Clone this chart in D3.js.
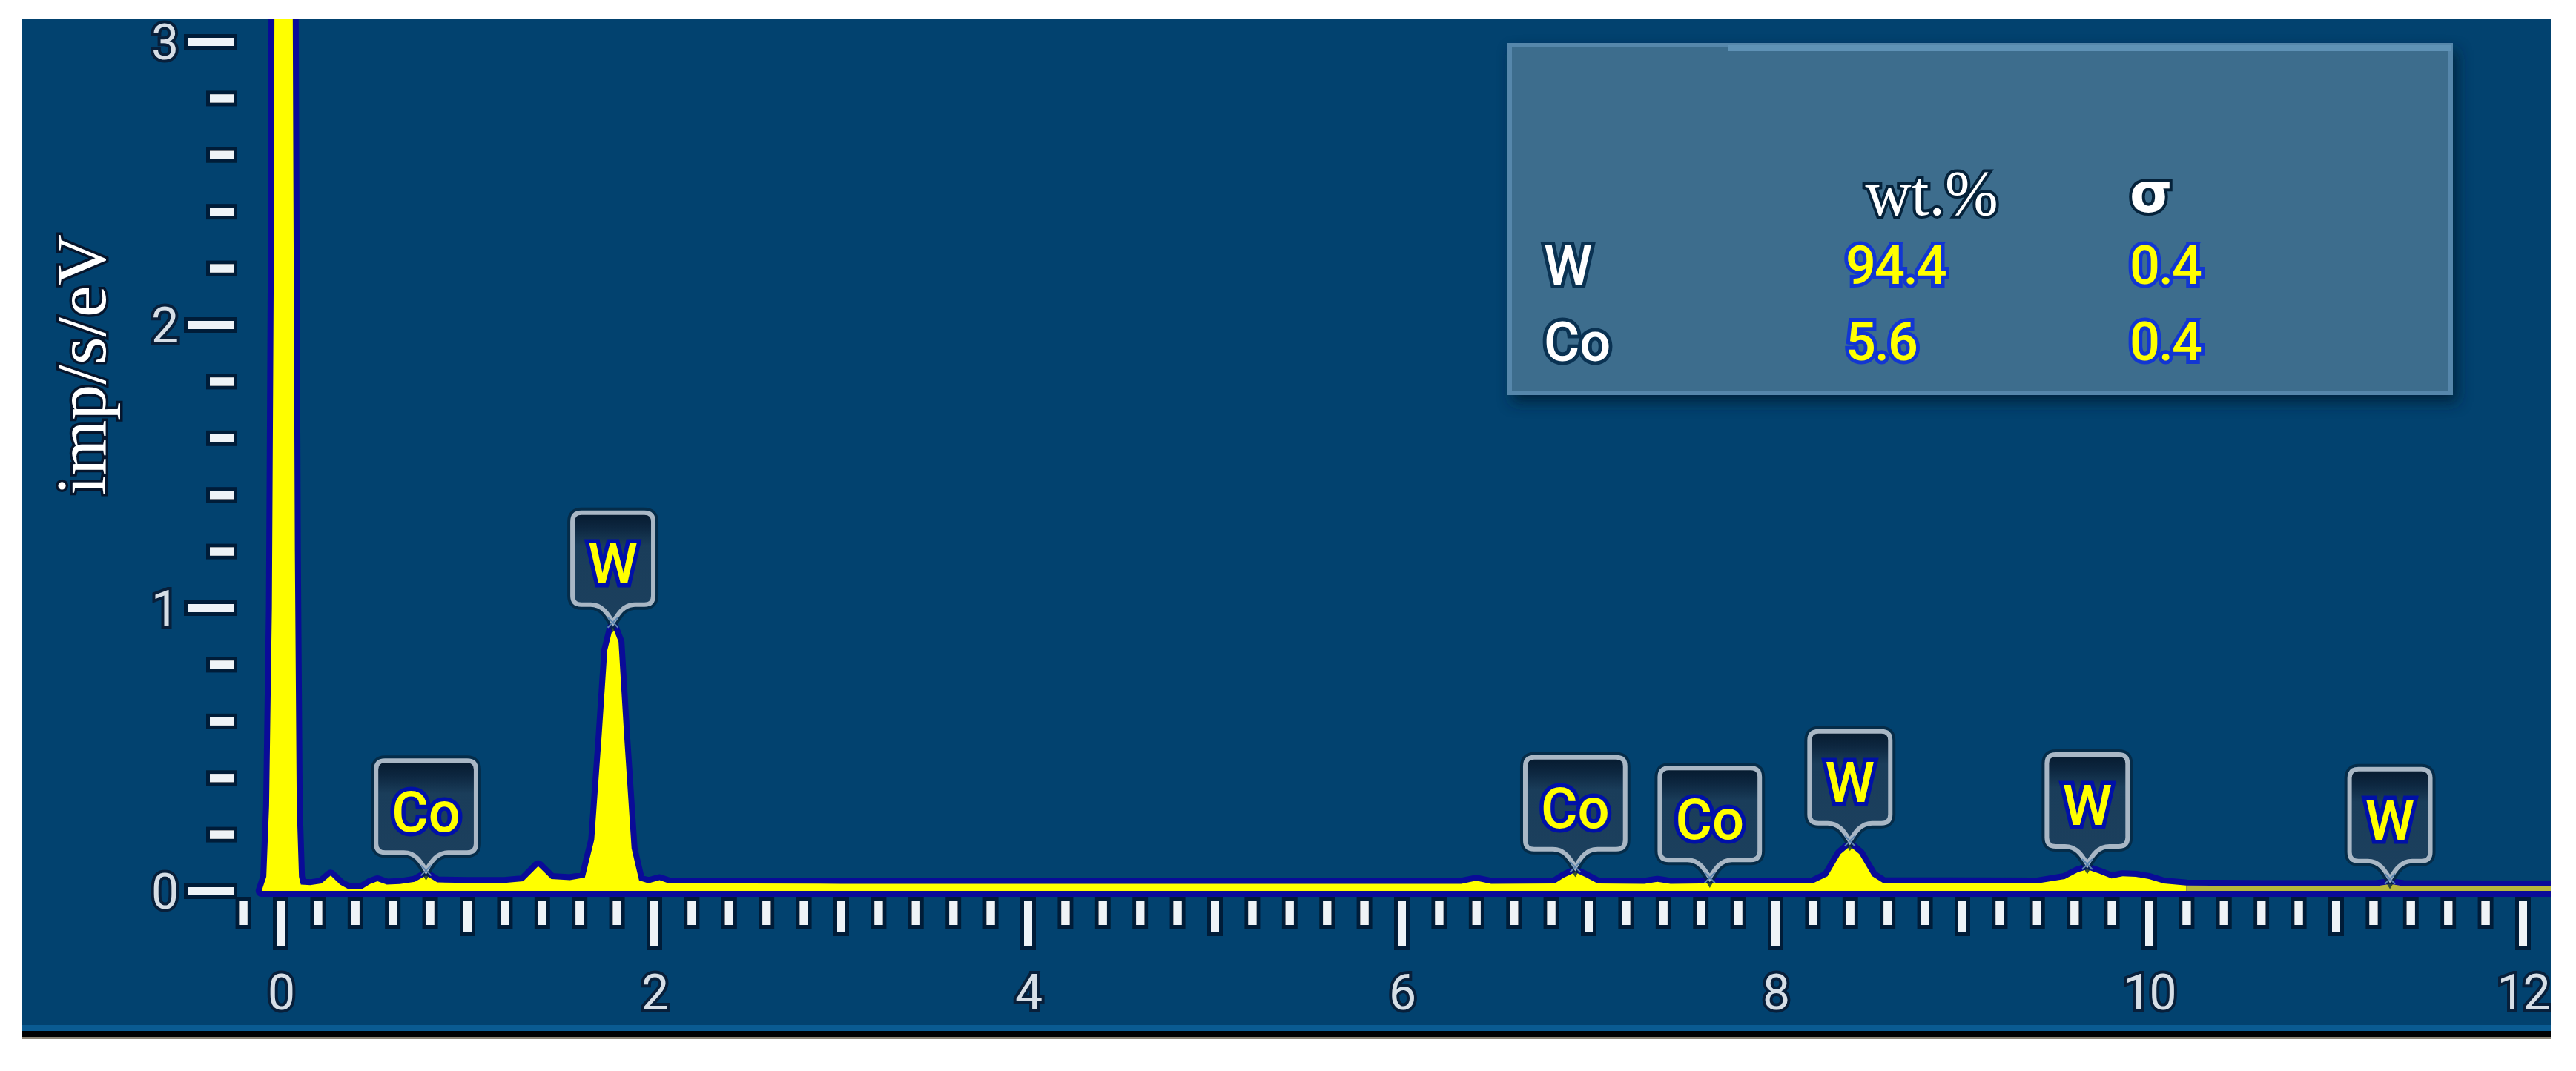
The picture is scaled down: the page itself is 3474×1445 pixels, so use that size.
<!DOCTYPE html>
<html><head><meta charset="utf-8">
<script src="https://cdn.jsdelivr.net/npm/d3@7"></script>
<style>body{margin:0;background:#fff}svg{display:block}</style>
</head><body><svg id="chart" width="3474" height="1445"></svg>
<script>
// ---------------- data ----------------
const xTickLabels = [0, 2, 4, 6, 8, 10, 12];
const xOddTicks = [1, 3, 5, 7, 9, 11];
const yTickLabels = [0, 1, 2, 3];
const yAxisTitle = "imp/s/eV";

// spectrum (keV, imp/s/eV)
const spectrumKeV = [-0.1,-0.075,-0.06,-0.045,-0.035,-0.03,0.065,0.07,0.078,0.088,0.1,0.11,0.16,0.22,0.27,0.32,0.36,0.44,0.48,0.52,0.57,0.64,0.72,0.78,0.84,1.0,1.2,1.3,1.38,1.45,1.55,1.63,1.68,1.72,1.75,1.78,1.81,1.84,1.88,1.92,1.97,2.03,2.08,2.5,3.0,4.0,5.0,6.0,6.32,6.4,6.48,6.82,6.87,6.93,6.99,7.05,7.3,7.37,7.44,7.6,7.65,7.7,8.2,8.28,8.35,8.4,8.45,8.52,8.58,9.4,9.55,9.62,9.67,9.73,9.8,9.86,9.93,10.0,10.08,10.2];
const spectrumCps = [0,0.05,0.3,1.0,2.2,3.4,3.4,2.5,1.2,0.3,0.05,0.022,0.02,0.026,0.054,0.022,0.008,0.008,0.024,0.034,0.022,0.024,0.032,0.054,0.03,0.028,0.028,0.034,0.087,0.042,0.038,0.047,0.18,0.55,0.85,0.93,0.88,0.55,0.15,0.037,0.027,0.038,0.026,0.026,0.025,0.025,0.025,0.025,0.025,0.036,0.025,0.026,0.047,0.066,0.047,0.026,0.025,0.032,0.025,0.026,0.028,0.026,0.026,0.052,0.13,0.158,0.13,0.052,0.027,0.026,0.042,0.066,0.076,0.062,0.044,0.052,0.05,0.042,0.026,0.019];
const tailKeV = [10.2,10.6,11.0,11.22,11.29,11.36,11.8,12.4];
const tailCps = [0.019,0.017,0.017,0.017,0.024,0.017,0.016,0.016];

// peak identification labels
const peakElements = ["Co","W","Co","Co","W","W","W"];
const peakKeV = [0.78,1.78,6.93,7.65,8.40,9.67,11.29];
const peakHeights = [0.054,0.93,0.066,0.028,0.158,0.076,0.024];

// quantification table
const tableHeaders = ["wt.%","σ"];
const tableElements = ["W","Co"];
const tableWt = ["94.4","5.6"];
const tableSigma = ["0.4","0.4"];

// ---------------- drawing ----------------
const svg = d3.select("#chart");
const defs = svg.append("defs");

function outlineFilter(id, color, r){
  const f = defs.append("filter").attr("id", id)
    .attr("x","-20%").attr("y","-20%").attr("width","140%").attr("height","140%");
  f.append("feMorphology").attr("in","SourceAlpha").attr("operator","dilate").attr("radius", r).attr("result","d");
  f.append("feFlood").attr("flood-color", color).attr("result","c");
  f.append("feComposite").attr("in","c").attr("in2","d").attr("operator","in").attr("result","o");
  const m = f.append("feMerge");
  m.append("feMergeNode").attr("in","o");
  m.append("feMergeNode").attr("in","SourceGraphic");
}
outlineFilter("tickOutline", "#061d38", 5);

const sh = defs.append("filter").attr("id","tblShadow")
  .attr("x","-10%").attr("y","-10%").attr("width","120%").attr("height","130%");
sh.append("feDropShadow").attr("dx",6).attr("dy",10).attr("stdDeviation",9).attr("flood-color","#00213b").attr("flood-opacity",0.9);

const boxGrad = defs.append("linearGradient").attr("id","boxGrad").attr("x1",0).attr("y1",0).attr("x2",0).attr("y2",1);
boxGrad.append("stop").attr("offset","0%").attr("stop-color","#061a2e");
boxGrad.append("stop").attr("offset","14%").attr("stop-color","#0d2740");
boxGrad.append("stop").attr("offset","30%").attr("stop-color","#1a3d5a");
boxGrad.append("stop").attr("offset","100%").attr("stop-color","#1c405e");

const plot = {x0: 29, y0: 25, x1: 3440, y1: 1390};
defs.append("clipPath").attr("id","plotClip").append("rect")
  .attr("x",plot.x0).attr("y",plot.y0).attr("width",plot.x1-plot.x0).attr("height",plot.y1-plot.y0);

// background
svg.append("rect").attr("x",plot.x0).attr("y",plot.y0).attr("width",plot.x1-plot.x0).attr("height",plot.y1-plot.y0).attr("fill","#02426f");
svg.append("rect").attr("x",plot.x0).attr("y",1383).attr("width",plot.x1-plot.x0).attr("height",8).attr("fill","#0a5b92");
svg.append("rect").attr("x",plot.x0).attr("y",1391).attr("width",plot.x1-plot.x0).attr("height",8).attr("fill","#000");
svg.append("rect").attr("x",plot.x0).attr("y",1399).attr("width",plot.x1-plot.x0).attr("height",3).attr("fill","#8c8577");

const g = svg.append("g").attr("clip-path","url(#plotClip)");

const x = d3.scaleLinear().domain([0,12]).range([378,3402]);
const y = d3.scaleLinear().domain([0,3]).range([1202,56]);

// ---- axes ----
const minorX = d3.range(-1, 61).map(i => +(i*0.2).toFixed(1)).filter(v => !Number.isInteger(v) || v < 0);
const tickFont = "Roboto, 'Open Sans', sans-serif";

function styleTicks(sel){
  sel.select(".domain").remove();
  sel.selectAll(".tick line").attr("stroke","#eef3f7").attr("stroke-width",11);
}
const xTicksG = g.append("g").attr("filter","url(#tickOutline)");
xTicksG.append("g").attr("transform","translate(0,1215)")
  .call(d3.axisBottom(x).tickValues(minorX).tickSize(33).tickSizeOuter(0).tickFormat(""))
  .call(styleTicks);
xTicksG.append("g").attr("transform","translate(0,1215)")
  .call(d3.axisBottom(x).tickValues(xOddTicks).tickSize(43).tickSizeOuter(0).tickFormat(""))
  .call(styleTicks);
xTicksG.append("g").attr("transform","translate(0,1215)")
  .call(d3.axisBottom(x).tickValues(xTickLabels).tickSize(62).tickSizeOuter(0).tickFormat(""))
  .call(styleTicks);

const xLab = g.append("g").attr("transform","translate(0,1215)")
  .call(d3.axisBottom(x).tickValues(xTickLabels).tickSize(0).tickSizeOuter(0).tickFormat(d3.format("d")));
xLab.select(".domain").remove();
xLab.selectAll("text").attr("y",123).attr("dy","0.36em")
  .attr("font-family",tickFont).attr("font-size",66).attr("letter-spacing",-2)
  .attr("fill","#d6dee6").attr("stroke","#081f3a").attr("stroke-width",8).attr("paint-order","stroke");

const minorY = d3.range(0, 16).map(i => +(i*0.2).toFixed(1)).filter(v => !Number.isInteger(v));
const yTicksG = g.append("g").attr("filter","url(#tickOutline)");
yTicksG.append("g").attr("transform","translate(315,0)")
  .call(d3.axisLeft(y).tickValues(minorY).tickSize(32).tickSizeOuter(0).tickFormat(""))
  .call(styleTicks);
yTicksG.append("g").attr("transform","translate(315,0)")
  .call(d3.axisLeft(y).tickValues(yTickLabels).tickSize(62).tickSizeOuter(0).tickFormat(""))
  .call(styleTicks);
const yLab = g.append("g").attr("transform","translate(315,0)")
  .call(d3.axisLeft(y).tickValues(yTickLabels).tickSize(0).tickSizeOuter(0).tickFormat(d3.format("d")));
yLab.select(".domain").remove();
yLab.selectAll("text").attr("x",-74).attr("dy","0.36em").attr("text-anchor","end")
  .attr("font-family",tickFont).attr("font-size",66)
  .attr("fill","#d6dee6").attr("stroke","#081f3a").attr("stroke-width",8).attr("paint-order","stroke");

g.append("text").attr("transform","translate(142,492) rotate(-90)")
  .attr("text-anchor","middle").attr("font-family","'Liberation Serif','Times New Roman',serif")
  .attr("font-size",96).attr("fill","#ffffff").attr("stroke","#06152c").attr("stroke-width",7)
  .attr("paint-order","stroke").text(yAxisTitle);

// ---- spectrum ----
const mainPts = spectrumKeV.map((k,i)=>[k, spectrumCps[i]]);
const tailPts = tailKeV.map((k,i)=>[k, tailCps[i]]);
const allPts = mainPts.concat(tailPts.slice(1));
const area = d3.area().x(d=>x(d[0])).y0(y(0)).y1(d=>y(d[1]));
g.append("path").datum(allPts).attr("d",area).attr("fill","none")
  .attr("stroke","#0a0b98").attr("stroke-width",16).attr("stroke-linejoin","round");
g.append("path").datum(mainPts).attr("d",area).attr("fill","#ffff00");
g.append("path").datum(tailPts).attr("d",area).attr("fill","#b8b83a");

// ---- peak labels ----
const labelFont = "Roboto, 'Open Sans', sans-serif";
peakElements.forEach((el, i) => {
  const cx = x(peakKeV[i]);
  const tipY = y(peakHeights[i]) - 7;
  const lg = g.append("g");
  const txt = lg.append("text").attr("font-family",labelFont).attr("font-size",76).attr("font-weight",500).text(el);
  const tw = txt.node().getComputedTextLength();
  txt.remove();
  const w = tw + 42, h = 124, r = 12, pw = 30;
  const l = cx - w/2, rt = cx + w/2, bot = tipY - 24, top = bot - h;
  const p = d3.path();
  p.moveTo(l+r, top); p.lineTo(rt-r, top); p.quadraticCurveTo(rt, top, rt, top+r);
  p.lineTo(rt, bot-r); p.quadraticCurveTo(rt, bot, rt-r, bot);
  p.lineTo(cx+pw, bot);
  p.bezierCurveTo(cx+pw*0.45, bot, cx+6, tipY-10, cx, tipY);
  p.bezierCurveTo(cx-6, tipY-10, cx-pw*0.45, bot, cx-pw, bot);
  p.lineTo(l+r, bot); p.quadraticCurveTo(l, bot, l, bot-r);
  p.lineTo(l, top+r); p.quadraticCurveTo(l, top, l+r, top); p.closePath();
  lg.append("path").attr("d",p.toString()).attr("fill","none").attr("stroke","#062740").attr("stroke-width",14).attr("opacity",0.8);
  lg.append("path").attr("d",p.toString()).attr("fill","url(#boxGrad)").attr("stroke","#a9b7c5").attr("stroke-width",6);
  lg.append("line").attr("x1",cx-7).attr("y1",tipY-7).attr("x2",cx+7).attr("y2",tipY+7).attr("stroke","#5d86b0").attr("stroke-width",2);
  lg.append("line").attr("x1",cx+7).attr("y1",tipY-7).attr("x2",cx-7).attr("y2",tipY+7).attr("stroke","#5d86b0").attr("stroke-width",2);
  lg.append("text").attr("x",cx).attr("y",top + h/2 + 6).attr("dy","0.36em").attr("text-anchor","middle")
    .attr("font-family",labelFont).attr("font-size",76).attr("font-weight",500)
    .attr("fill","#ffff00").attr("stroke","#0010a8").attr("stroke-width",11).attr("paint-order","stroke")
    .text(el);
});

// ---- quantification table ----
const tb = g.append("g");
tb.append("rect").attr("x",2033).attr("y",58).attr("width",1275).attr("height",475)
  .attr("fill","#3d6d8d").attr("filter","url(#tblShadow)");
tb.append("rect").attr("x",2036).attr("y",61).attr("width",1269).attr("height",469)
  .attr("fill","none").attr("stroke","#5687ab").attr("stroke-width",6);
tb.append("rect").attr("x",2330).attr("y",61).attr("width",975).attr("height",8).attr("fill","#5f92b6");

const hdrY = 262;
tb.append("text").attr("x",2605).attr("y",hdrY).attr("dy","0.33em").attr("text-anchor","middle")
  .attr("font-family","'Liberation Serif','Times New Roman',serif").attr("font-size",86)
  .attr("fill","#fff").attr("stroke","#05223a").attr("stroke-width",8).attr("paint-order","stroke")
  .text(tableHeaders[0]);
tb.append("text").attr("x",2872).attr("y",hdrY).attr("dy","0.33em").attr("text-anchor","start")
  .attr("font-family","'DejaVu Sans',sans-serif").attr("font-weight","bold").attr("font-size",74)
  .attr("fill","#fff").attr("stroke","#05223a").attr("stroke-width",8).attr("paint-order","stroke")
  .text(tableHeaders[1]);

const rowY = [357, 460];
tableElements.forEach((el, i) => {
  tb.append("text").attr("x",2082).attr("y",rowY[i]).attr("dy","0.36em")
    .attr("font-family",labelFont).attr("font-size",74).attr("font-weight",500)
    .attr("fill","#fff").attr("stroke","#0a3252").attr("stroke-width",10).attr("paint-order","stroke").text(el);
  tb.append("text").attr("x",2489).attr("y",rowY[i]).attr("dy","0.36em")
    .attr("font-family",labelFont).attr("font-size",72).attr("font-weight",500).attr("letter-spacing",-2)
    .attr("fill","#ffff00").attr("stroke","#1236d2").attr("stroke-width",10).attr("paint-order","stroke").text(tableWt[i]);
  tb.append("text").attr("x",2872).attr("y",rowY[i]).attr("dy","0.36em")
    .attr("font-family",labelFont).attr("font-size",72).attr("font-weight",500).attr("letter-spacing",-2)
    .attr("fill","#ffff00").attr("stroke","#1236d2").attr("stroke-width",10).attr("paint-order","stroke").text(tableSigma[i]);
});
</script></body></html>
